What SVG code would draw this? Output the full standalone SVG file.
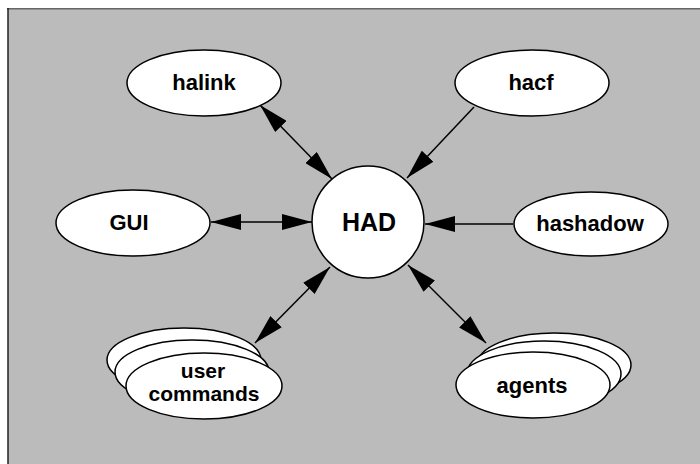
<svg xmlns="http://www.w3.org/2000/svg" width="700" height="464" viewBox="0 0 700 464">
  <style>
    .node { fill: #ffffff; stroke: #000000; stroke-width: 1.5; }
    .label { font-family: "Liberation Sans", Arial, Helvetica, sans-serif; font-weight: bold; font-size: 22px; fill: #000000; text-anchor: middle; }
    .big { font-size: 25px; }
    .two { font-size: 21px; }
    .edge { stroke: #000000; stroke-width: 1.5; fill: none; }
  </style>
  <defs>
    <marker id="arrow" viewBox="0 0 30 16" refX="30" refY="8" markerWidth="30" markerHeight="16" markerUnits="userSpaceOnUse" orient="auto-start-reverse">
      <path d="M0,0 L30,8 L0,16 Z" fill="#000000"/>
    </marker>
  </defs>

  <!-- canvas -->
  <rect x="0" y="0" width="700" height="464" fill="#ffffff"/>
  <rect x="8" y="8" width="692" height="456" fill="#bbbbbb"/>
  <line x1="7" y1="8.7" x2="700" y2="8.7" stroke="#666666" stroke-width="1.5"/>
  <line x1="8" y1="8" x2="8" y2="464" stroke="#222222" stroke-width="1.5"/>

  <!-- connectors -->
  <g id="connectors">
    <line class="edge" x1="260" y1="105" x2="332" y2="179" marker-start="url(#arrow)" marker-end="url(#arrow)"/>
    <line class="edge" x1="474" y1="107" x2="407" y2="178" marker-end="url(#arrow)"/>
    <line class="edge" x1="211" y1="222" x2="312" y2="222" marker-start="url(#arrow)" marker-end="url(#arrow)"/>
    <line class="edge" x1="513" y1="224" x2="425" y2="224" marker-end="url(#arrow)"/>
    <line class="edge" x1="255" y1="343" x2="330" y2="267" marker-start="url(#arrow)" marker-end="url(#arrow)"/>
    <line class="edge" x1="486" y1="343" x2="408" y2="265" marker-start="url(#arrow)" marker-end="url(#arrow)"/>
  </g>

  <g id="halink">
    <ellipse class="node" cx="204" cy="83" rx="77" ry="33"/>
    <text class="label" x="204" y="90">halink</text>
  </g>

  <g id="hacf">
    <ellipse class="node" cx="532" cy="83" rx="77" ry="33"/>
    <text class="label" x="531" y="90">hacf</text>
  </g>

  <g id="GUI">
    <ellipse class="node" cx="133" cy="223" rx="77" ry="33"/>
    <text class="label" x="129" y="230">GUI</text>
  </g>

  <g id="HAD">
    <circle class="node" cx="368" cy="222" r="56"/>
    <text class="label big" x="369" y="231">HAD</text>
  </g>

  <g id="hashadow">
    <ellipse class="node" cx="591" cy="224" rx="77" ry="32"/>
    <text class="label" x="590" y="231">hashadow</text>
  </g>

  <g id="user-commands">
    <ellipse class="node" cx="184" cy="360" rx="77" ry="32"/>
    <ellipse class="node" cx="192" cy="372" rx="77" ry="32"/>
    <ellipse class="node" cx="204" cy="386" rx="78" ry="33"/>
    <text class="label two" x="203" y="378">user</text>
    <text class="label two" x="204" y="401">commands</text>
  </g>

  <g id="agents">
    <ellipse class="node" cx="554" cy="365" rx="77" ry="32"/>
    <ellipse class="node" cx="544" cy="374" rx="77" ry="33"/>
    <ellipse class="node" cx="533" cy="385" rx="77" ry="33"/>
    <text class="label" x="532" y="393">agents</text>
  </g>
</svg>
